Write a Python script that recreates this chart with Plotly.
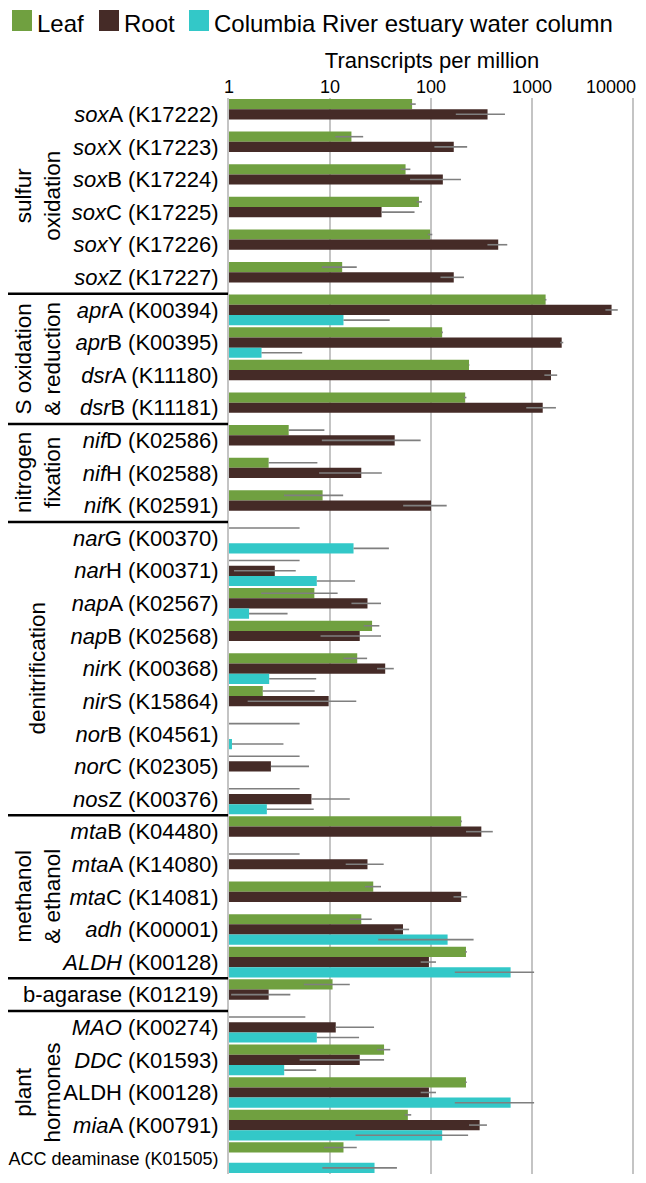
import plotly.graph_objects as go

# gene labels, top to bottom
categories = [
    "<i>sox</i>A (K17222)", "<i>sox</i>X (K17223)", "<i>sox</i>B (K17224)",
    "<i>sox</i>C (K17225)", "<i>sox</i>Y (K17226)", "<i>sox</i>Z (K17227)",
    "<i>apr</i>A (K00394)", "<i>apr</i>B (K00395)", "<i>dsr</i>A (K11180)",
    "<i>dsr</i>B (K11181)",
    "<i>nif</i>D (K02586)", "<i>nif</i>H (K02588)", "<i>nif</i>K (K02591)",
    "<i>nar</i>G (K00370)", "<i>nar</i>H (K00371)", "<i>nap</i>A (K02567)",
    "<i>nap</i>B (K02568)", "<i>nir</i>K (K00368)", "<i>nir</i>S (K15864)",
    "<i>nor</i>B (K04561)", "<i>nor</i>C (K02305)", "<i>nos</i>Z (K00376)",
    "<i>mta</i>B (K04480)", "<i>mta</i>A (K14080)", "<i>mta</i>C (K14081)",
    "<i>adh</i> (K00001)", "<i>ALDH</i> (K00128)",
    "b-agarase (K01219)",
    "<i>MAO</i> (K00274)", "<i>DDC</i> (K01593)", "ALDH (K00128)",
    "<i>mia</i>A (K00791)",
    '<span style="font-size:18px">ACC deaminase (K01505)</span>',
]

# group name, first and last row index
groups = [
    ("sulfur<br>oxidation", 0, 5),
    ("S oxidation<br>&amp; reduction", 6, 9),
    ("nitrogen<br>fixation", 10, 12),
    ("denitrification", 13, 21),
    ("methanol<br>&amp; ethanol", 22, 26),
    ("", 27, 27),
    ("plant<br>hormones", 28, 32),
]

tick_vals = [1, 10, 100, 1000, 10000]
tick_text = ["1", "10", "100", "1000", "10000"]

# transcripts per million; error bar ends (None = not drawn)
leaf = [65, 16.3, 56, 76, 98, 13.2, 1364, 129, 238, 218, 3.9, 2.47, 8.45,
        0, 0, 7.0, 26.1, 18.6, 2.16, 0, 0, 0, 199, 0, 26.8, 20.4, 222,
        10.6, 0, 34.3, 222, 59, 13.6]
leaf_hi = [70.6, 21.3, 62.5, 81.3, 103, 18.4, 1390, 131, 240, 224, 8.8, 7.5, 13.5,
           5.0, 5.0, 11.9, 30.8, 23.3, 7.05, 5.0, 5.0, 5.0, 202, 5.0, 32, 25.9, 226,
           15.7, 5.7, 39.5, 226, 63.7, 18.4]
leaf_lo = [62, 11.3, 50, 72, 93, 8.3, 1340, 127, 236, 212, None, None, 3.5,
           None, None, 2.08, 21.6, 13.6, None, None, None, None, 196, None, 22.2, 15.7, 218,
           5.5, None, 29.2, 218, 55, 8.7]

root = [363, 168, 131, 32.4, 463, 168, 6135, 1968, 1542, 1277, 43.7, 20.4, 100,
        0, 2.84, 23.5, 19.7, 35.2, 9.7, 0, 2.6, 6.55, 315, 23.5, 199, 52.8, 95.4,
        2.47, 11.4, 19.7, 95.4, 303, 0]
root_hi = [540, 228, 198, 68.7, 569, 212, 7063, 2040, 1775, 1725, 79, 32.6, 143,
           None, 4.58, 32, 32, 42.8, 18.2, None, 6.2, 15.7, 409, 34, 228, 60.7, 112,
           4.05, 27.3, 34.3, 112, 358, None]
root_lo = [176, 108, 62, None, 362, 124, 5330, 1900, 1325, 877, 8.3, 7.8, 53,
           None, 1.12, 16.3, 8.06, 29.2, 1.53, None, None, None, 222, 14.3, 167, 43.3, 79,
           1.05, None, 5.0, 79, 238, None]

water = [0, 0, 0, 0, 0, 0, 13.6, 2.1, 0, 0, 0, 0, 0,
         17.1, 7.4, 1.58, 0, 2.5, 0, 1.07, 0, 2.37, 0, 0, 0, 146, 614,
         0, 7.4, 3.52, 614, 129, 27.6]
water_hi = [None, None, None, None, None, None, 39, 5.3, None, None, None, None, None,
            38.3, 17.7, 3.8, None, 7.3, None, 3.46, None, 6.9, None, None, None, 264, 1049,
            None, 19.4, 7.3, 1049, 233, 46]
water_lo = [None, None, None, None, None, None, None, None, None, None, None, None, None,
            None, None, None, None, None, None, None, None, None, None, None, None, 30, 172,
            None, None, None, 172, 17.9, 8.4]

FLOOR = 1  # left edge of the log axis, zero values sit here


def shown(vals):
    return [v if v > 0 else FLOOR for v in vals]


def err_bar(vals, hi, lo):
    base = shown(vals)
    plus = [0 if h is None else h - b for b, h in zip(base, hi)]
    minus = [0 if l is None else b - l for b, l in zip(base, lo)]
    return dict(type="data", symmetric=False, array=plus, arrayminus=minus,
                color="#7f7f7f", thickness=1.6, width=0)


series = [
    ("Leaf", leaf, leaf_hi, leaf_lo, "#70a040"),
    ("Root", root, root_hi, root_lo, "#452b27"),
    ("Columbia River estuary water column", water, water_hi, water_lo, "#33c8c8"),
]

# the page body adds an 8px margin, so the figure is 8px smaller each way
PAGE = 8
W, H = 646 - PAGE, 1183 - 2 * PAGE
L, R, T, B = 229 - PAGE, 11, 98 - PAGE, 1
plot_w, plot_h = W - L - R, H - T - B
# a hair past 10^4 so plotly still draws the last grid line
x_max = 4 * plot_w / 404


def px(x):  # screen column -> paper x
    return (x - PAGE - L) / plot_w


def py(y):  # screen row -> paper y
    return 1 + (T - (y - PAGE)) / plot_h


fig = go.Figure()
for name, vals, hi, lo, color in series:
    fig.add_trace(go.Bar(
        y=categories, x=shown(vals), orientation="h", name=name,
        marker=dict(color=color, line=dict(width=0)),
        error_x=err_bar(vals, hi, lo), showlegend=False,
    ))

# legend drawn by hand so the swatches match the big Excel ones
legend_x = [12, 99, 189]
for (name, _, _, _, color), x0 in zip(series, legend_x):
    fig.add_shape(type="rect", xref="paper", yref="paper",
                  x0=px(x0), x1=px(x0 + 20), y0=py(31), y1=py(10),
                  fillcolor=color, line=dict(width=0))
    fig.add_annotation(text=name, xref="paper", yref="paper",
                       x=px(x0 + 23), y=py(PAGE), xanchor="left", yanchor="top",
                       showarrow=False, font=dict(size=24, color="black"))

# group separators and rotated group names on the left
for label, first, last in groups:
    if first > 0:
        fig.add_shape(type="line", xref="paper", yref="y",
                      x0=px(8), x1=px(228), y0=first - 0.5, y1=first - 0.5,
                      line=dict(color="black", width=2.5))
    if label:
        fig.add_annotation(text=label, xref="paper", yref="y",
                           x=px(38), y=(first + last) / 2,
                           textangle=-90, showarrow=False, xanchor="center",
                           font=dict(size=22.5, color="black"))

# the last tick label is pulled inside the page, as Excel does
fig.add_annotation(text=tick_text[-1], xref="x", yref="paper",
                   x=4, y=py(87), xanchor="right", yanchor="middle", xshift=5,
                   showarrow=False, font=dict(size=18, color="black"))

fig.update_layout(
    width=W, height=H,
    margin=dict(l=L, r=R, t=T, b=B, autoexpand=False),
    barmode="group", bargap=0.06, bargroupgap=0,
    plot_bgcolor="white", paper_bgcolor="white",
    font=dict(family="Liberation Sans, Arial, sans-serif", color="black"),
    showlegend=False,
    xaxis=dict(
        type="log", range=[0, x_max], side="top", automargin=False,
        tickvals=tick_vals, ticktext=tick_text[:-1] + [""],
        tickfont=dict(size=18), ticks="",
        showgrid=True, gridcolor="#c4c4c4", gridwidth=2,
        zeroline=False, showline=False,
        title=dict(text="Transcripts per million", font=dict(size=22), standoff=2),
    ),
    yaxis=dict(
        type="category", autorange="reversed", categoryorder="array",
        categoryarray=categories, tickfont=dict(size=22), ticks="",
        showgrid=False, showline=True, linecolor="#c4c4c4", linewidth=2,
        ticklabelstandoff=4, automargin=False,
    ),
)

fig.write_html("out.html")
